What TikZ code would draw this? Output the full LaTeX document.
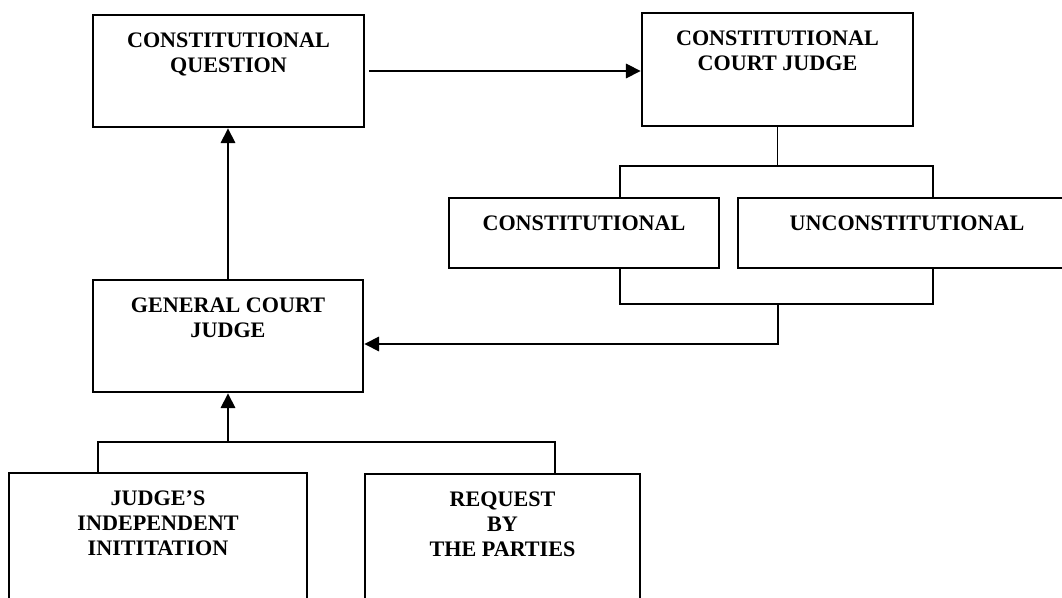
\documentclass[tikz,border=0pt]{standalone}
\usepackage{fontspec}
\setmainfont{Liberation Serif}
\usetikzlibrary{arrows.meta}
\tikzset{
  box/.style={draw, line width=2.1pt, inner sep=0pt},
  lbl/.style={font=\fontsize{16.6pt}{18.75pt}\selectfont\bfseries, align=center, inner sep=0pt, anchor=north},
  link/.style={line width=0.9pt},
  arr/.style={link, -{Triangle[length=11pt,width=11pt]}}
}

\begin{document}
\begin{tikzpicture}[x=0.75pt, y=-0.75pt]
			%%%%% START %%%%%
			\useasboundingbox (0,0) rectangle (1062,598);
			\clip (0,0) rectangle (1062,598);
			
			\node[box, minimum width=203.25pt, minimum height=84pt] (q) at (228.5,71) {};
			\node[lbl] (qtext) at ([yshift=-14pt]q.north) {CONSTITUTIONAL\\QUESTION};
			
			\node[box, minimum width=203.25pt, minimum height=84.75pt] (ccj) at (777.5,69.5) {};
			\node[lbl] (ccjtext) at ([yshift=-14pt]ccj.north) {CONSTITUTIONAL\\COURT JUDGE};
			
			\node[box, minimum width=202.5pt, minimum height=52.5pt] (con) at (584,233) {};
			\node[lbl] (context) at ([yshift=-14pt]con.north) {CONSTITUTIONAL};
			
			\node[box, minimum width=253.5pt, minimum height=52.5pt] (unc) at (907,233) {};
			\node[lbl] (unctext) at ([yshift=-14pt]unc.north) {UNCONSTITUTIONAL};
			
			\node[box, minimum width=202.5pt, minimum height=84pt] (gcj) at (228,336) {};
			\node[lbl] (gcjtext) at ([yshift=-14pt]gcj.north) {GENERAL COURT\\JUDGE};
			
			\node[box, minimum width=223.5pt, minimum height=132.75pt] (jii) at (158,561.5) {};
			\node[lbl] (jiitext) at ([yshift=-14pt]jii.north) {JUDGE’S\\INDEPENDENT\\INITITATION};
			
			\node[box, minimum width=206.25pt, minimum height=132pt] (rbp) at (502.5,562) {};
			\node[lbl] (rbptext) at ([yshift=-14pt]rbp.north) {REQUEST\\BY\\THE PARTIES};
			
			% question to court judge
			\draw[arr] ([xshift=3pt]q.east) -- (q.east -| ccj.west);
			
			% court judge splits into the two outcomes
			\coordinate (sl) at (620,166);
			\coordinate (sr) at (933,166);
			\draw[link] (ccj.south) -- (ccj.south |- sl);
			\draw[link] (sl |- con.north) -- (sl) -- (sr) -- (sr |- unc.north);
			
			% outcomes back to the general court judge
			\coordinate (ml) at (620,304);
			\coordinate (mr) at (933,304);
			\coordinate (mj) at (778,304);
			\coordinate (back) at (778,344);
			\draw[link] (ml |- con.south) -- (ml) -- (mr) -- (mr |- unc.south);
			\draw[arr] (mj) -- (back) -- (back -| gcj.east);
			
			% general court judge raises the question
			\draw[arr] (gcj.north) -- (gcj.north |- q.south);
			
			% two ways to start
			\coordinate (bl) at (98,442);
			\coordinate (br) at (555,442);
			\draw[link] (bl |- jii.north) -- (bl) -- (br) -- (br |- rbp.north);
			\draw[arr] (gcj.south |- bl) -- (gcj.south);
			
			%%%%% END %%%%%
\end{tikzpicture}
\end{document}
